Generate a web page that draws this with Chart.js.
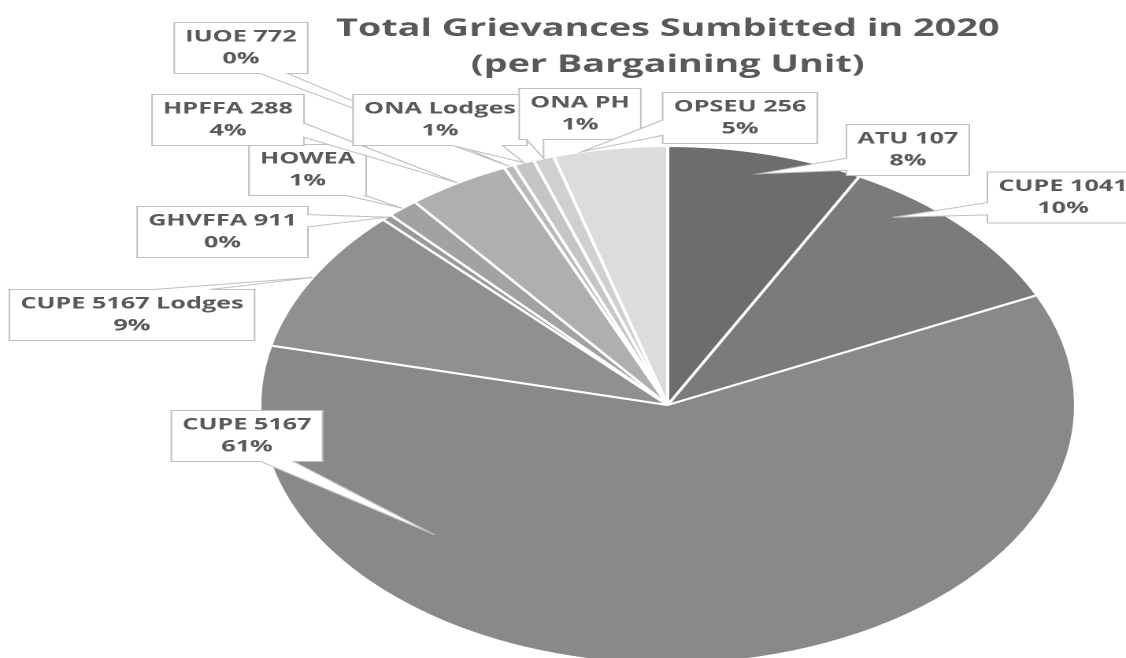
<!DOCTYPE html>
<html>
<head>
<meta charset="utf-8">
<script src="https://cdn.jsdelivr.net/npm/chart.js@4.4.1/dist/chart.umd.min.js"></script>
<style>
  html, body { margin: 0; padding: 0; background: #fff; overflow: hidden; }
  /* the reference picture is stretched sideways, so the whole chart is too */
  #wrap { width: 715px; height: 680px; transform: scaleX(1.5748); transform-origin: 0 0; }
</style>
</head>
<body>
<div id="wrap"><canvas id="grievanceChart" width="715" height="680"></canvas></div>
<script>
// Bargaining units and grievances filed in 2020
const units = ['ATU 107', 'CUPE 1041', 'CUPE 5167', 'CUPE 5167 Lodges', 'GHVFFA 911', 'HOWEA',
               'HPFFA 288', 'IUOE 772', 'ONA Lodges', 'ONA PH', 'OPSEU 256'];
const grievances = [19, 25, 148, 22, 1, 3, 10, 1, 2, 2, 11];
const sliceColors = ['#6d6d6d', '#7b7b7b', '#898989', '#909090', '#999999', '#a2a2a2',
                     '#afafaf', '#bababa', '#c5c5c5', '#d0d0d0', '#dcdcdc'];

// Callout layout: box centre, wedge side + span on that side, tip (fraction of slice angle, fraction of radius)
const calloutCenters = [[576.5, 150], [675, 197.5], [156.8, 436], [83.8, 315], [141.3, 232], [195.3, 170],
                        [144.8, 120], [153, 48], [279.4, 120], [368.3, 114], [469.9, 118]];
const calloutWedges = [['left', .66, .9], ['left', .6, .84], ['bottom', .59, .81], ['top', .59, .82],
                       ['right', .16, .4], ['bottom', .83, .99], ['right', .56, .84], ['bottom', .64, .85],
                       ['bottom', .57, .86], ['bottom', .06, .2], ['left', .54, .84]];
const calloutTips = [[.5, .92], [.25, .91], [.75, .76], [.5, 1], [.5, 1], [.5, 1],
                     [.5, 1], [.5, 1], [.5, 1], [.5, 1], [.25, 1]];

const total = grievances.reduce((a, b) => a + b, 0);

const calloutPlugin = {
    id: 'callouts',
    afterDraw(chart) {
        const ctx = chart.ctx;
        const arcs = chart.getDatasetMeta(0).data;
        ctx.save();
        ctx.font = 'bold 16px "Open Sans"';
        arcs.forEach((arc, i) => {
            const pct = Math.round(grievances[i] / total * 100) + '%';
            const w = Math.max(ctx.measureText(units[i]).width, ctx.measureText(pct).width) + 14;
            const h = 51;
            const x0 = calloutCenters[i][0] - w / 2, x1 = x0 + w;
            const y0 = calloutCenters[i][1] - h / 2, y1 = y0 + h;

            const ang = arc.startAngle + calloutTips[i][0] * (arc.endAngle - arc.startAngle);
            const r = arc.outerRadius * calloutTips[i][1];
            const tx = arc.x + r * Math.cos(ang), ty = arc.y + r * Math.sin(ang);

            const [side, f1, f2] = calloutWedges[i];
            ctx.beginPath();
            ctx.moveTo(x0, y0);
            if (side === 'top') {
                ctx.lineTo(x0 + f1 * w, y0); ctx.lineTo(tx, ty); ctx.lineTo(x0 + f2 * w, y0);
            }
            ctx.lineTo(x1, y0);
            if (side === 'right') {
                ctx.lineTo(x1, y0 + f1 * h); ctx.lineTo(tx, ty); ctx.lineTo(x1, y0 + f2 * h);
            }
            ctx.lineTo(x1, y1);
            if (side === 'bottom') {
                ctx.lineTo(x0 + f2 * w, y1); ctx.lineTo(tx, ty); ctx.lineTo(x0 + f1 * w, y1);
            }
            ctx.lineTo(x0, y1);
            if (side === 'left') {
                ctx.lineTo(x0, y0 + f2 * h); ctx.lineTo(tx, ty); ctx.lineTo(x0, y0 + f1 * h);
            }
            ctx.closePath();
            ctx.fillStyle = '#ffffff';
            ctx.fill();
            ctx.lineWidth = 1;
            ctx.strokeStyle = '#bfbfbf';
            ctx.stroke();

            ctx.fillStyle = '#595959';
            ctx.textAlign = 'center';
            ctx.textBaseline = 'middle';
            const cx = calloutCenters[i][0], cy = calloutCenters[i][1];
            ctx.fillText(units[i], cx, cy - 11);
            ctx.fillText(pct, cx, cy + 11);
        });
        ctx.restore();
    }
};

const ctx = document.getElementById('grievanceChart').getContext('2d');
new Chart(ctx, {
    type: 'pie',
    data: {
        labels: units,
        datasets: [{
            data: grievances,
            backgroundColor: sliceColors,
            borderColor: '#ffffff',
            borderWidth: 2,
            hoverOffset: 0,
            clip: false
        }]
    },
    options: {
        responsive: false,
        devicePixelRatio: 2,
        animation: false,
        events: [],
        layout: { padding: { left: 133, right: 0, top: 0, bottom: 15 } },
        plugins: {
            legend: { display: false },
            tooltip: { enabled: false },
            title: {
                display: true,
                text: ['Total Grievances Sumbitted in 2020', '(per Bargaining Unit)'],
                color: '#595959',
                font: { family: '"Open Sans"', size: 24, weight: 'bold', lineHeight: 1.5 },
                padding: { top: 11, bottom: 62 }
            }
        }
    },
    plugins: [calloutPlugin]
});
</script>
</body>
</html>
